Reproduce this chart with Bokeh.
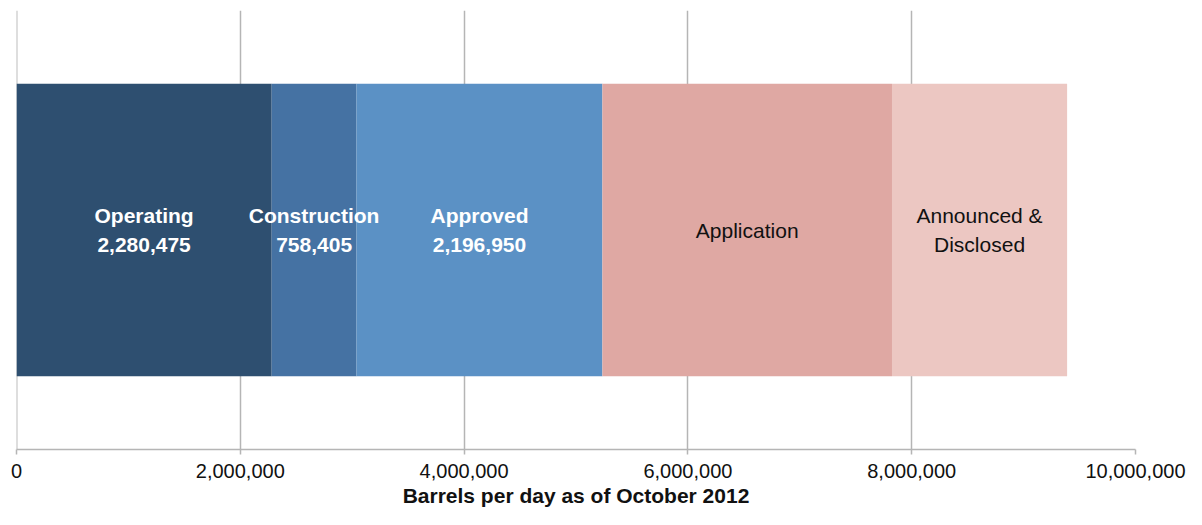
from bokeh.plotting import figure
from bokeh.models import ColumnDataSource, Range1d, FixedTicker, NumeralTickFormatter, Span
from bokeh.core.properties import value
from bokeh.embed import file_html
from bokeh.resources import INLINE

# ---- data ----
stages = ["Operating", "Construction", "Approved", "Application", "Announced &\nDisclosed"]
barrels = [2280475, 758405, 2196950, 2588000, 1565000]
show_value = [True, True, True, False, False]
colors = ["#2E4F70", "#4572A3", "#5B91C5", "#DFA8A3", "#ECC7C2"]
x_ticks = [0, 2000000, 4000000, 6000000, 8000000, 10000000]
axis_title = "Barrels per day as of October 2012"

FONT = value("Liberation Sans")

lefts, rights = [], []
acc = 0
for v in barrels:
    lefts.append(acc)
    acc += v
    rights.append(acc)
mids = [(l + r) / 2 for l, r in zip(lefts, rights)]

src = ColumnDataSource(dict(left=lefts, right=rights, color=colors, y=[0.5] * len(barrels)))

p = figure(width=1186, height=509, output_backend="svg", toolbar_location=None,
           x_range=Range1d(0, 10000000), y_range=Range1d(0, 1),
           y_axis_type=None, min_border_left=16, min_border_right=51,
           min_border_top=10, min_border_bottom=58)
p.outline_line_color = None
p.background_fill_color = "white"

p.add_layout(Span(location=0, dimension="height", line_color="#BDBDBD",
                  line_width=2, level="underlay"))

p.hbar(y="y", left="left", right="right", height=0.6667, fill_color="color",
       line_color=None, source=src)

# labels
white_txt = dict(x=[], y=[], t=[])
black_txt = dict(x=[], y=[], t=[])
for name, v, sv, m in zip(stages, barrels, show_value, mids):
    if sv:
        white_txt["x"].append(m); white_txt["y"].append(0.5)
        white_txt["t"].append(f"{name}\n{v:,}")
    else:
        black_txt["x"].append(m); black_txt["y"].append(0.5)
        black_txt["t"].append(name)

p.text(x="x", y="y", text="t", source=ColumnDataSource(white_txt),
       text_align="center", text_baseline="middle", text_color="white",
       text_font=FONT, text_font_style="bold", text_font_size="21px",
       text_line_height=1.25)
p.text(x="x", y="y", text="t", source=ColumnDataSource(black_txt),
       text_align="center", text_baseline="middle", text_color="#111111",
       text_font=FONT, text_font_style="normal", text_font_size="21px",
       text_line_height=1.25)

ax = p.xaxis[0]
ax.ticker = FixedTicker(ticks=x_ticks)
ax.formatter = NumeralTickFormatter(format="0,0")
ax.axis_line_color = "#B5B5B5"
ax.axis_line_width = 1.5
ax.major_tick_line_color = "#B5B5B5"
ax.major_tick_line_width = 1.5
ax.major_tick_in = 0
ax.major_tick_out = 5
ax.minor_tick_line_color = None
ax.major_label_text_font = "Liberation Sans"
ax.major_label_text_font_size = "20px"
ax.major_label_text_color = "#111111"
ax.major_label_standoff = 9
ax.axis_label = axis_title
ax.axis_label_text_font = "Liberation Sans"
ax.axis_label_text_font_size = "21px"
ax.axis_label_text_font_style = "bold"
ax.axis_label_text_color = "#111111"
ax.axis_label_standoff = 3

p.xgrid.grid_line_color = "#B5B5B5"
p.xgrid.grid_line_width = 1.5
p.xgrid.level = "underlay"

open("out.html", "w").write(file_html(p, INLINE))
